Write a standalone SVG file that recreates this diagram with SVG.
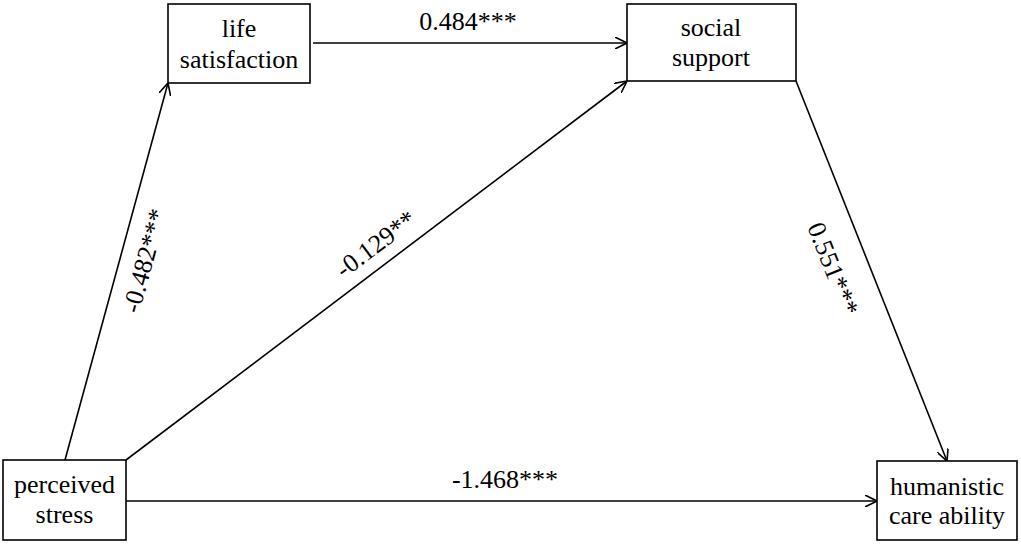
<svg xmlns="http://www.w3.org/2000/svg" width="1021" height="545" viewBox="0 0 1021 545">
<style>
.box{fill:#fff;stroke:#000;stroke-width:1.6}
.t{font-family:'Liberation Serif','Times New Roman','DejaVu Serif',serif;font-size:26px;fill:#000;text-anchor:middle}
.c{stroke:#000;stroke-width:1.6;fill:none}
</style>
<defs>
<marker id="ah" viewBox="0 0 12 12" refX="12" refY="6" markerWidth="12" markerHeight="12" markerUnits="userSpaceOnUse" orient="auto">
<path d="M0,0 L12,6 L0,12" fill="none" stroke="#000" stroke-width="1.6"/>
</marker>
</defs>
<rect width="1021" height="545" fill="#fff"/>
<g id="connectors">
<line class="c" x1="313" y1="43" x2="627" y2="43" marker-end="url(#ah)"/>
<line class="c" x1="65" y1="460" x2="168" y2="83" marker-end="url(#ah)"/>
<line class="c" x1="126" y1="460" x2="627" y2="81" marker-end="url(#ah)"/>
<line class="c" x1="126" y1="501" x2="877" y2="501" marker-end="url(#ah)"/>
<line class="c" x1="796" y1="81" x2="947" y2="461" marker-end="url(#ah)"/>
<text class="t" font-family="Liberation Serif" x="468" y="30">0.484***</text>
<text class="t" font-family="Liberation Serif" x="505" y="488">-1.468***</text>
<text class="t" font-family="Liberation Serif" transform="translate(153,263) rotate(-74.7)">-0.482***</text>
<text class="t" font-family="Liberation Serif" transform="translate(381,251) rotate(-37.1)">-0.129**</text>
<text class="t" font-family="Liberation Serif" transform="translate(825,272) rotate(68.3)">0.551***</text>
</g>
<g id="life_satisfaction">
<rect class="box" x="168" y="4" width="142" height="79"/>
<text class="t" x="239" y="37">life</text>
<text class="t" x="239" y="68">satisfaction</text>
</g>
<g id="social_support">
<rect class="box" x="627" y="4" width="169" height="77"/>
<text class="t" x="711" y="36">social</text>
<text class="t" x="711" y="66">support</text>
</g>
<g id="perceived_stress">
<rect class="box" x="3" y="460" width="123" height="80"/>
<text class="t" x="64.5" y="493">perceived</text>
<text class="t" x="64.5" y="523">stress</text>
</g>
<g id="humanistic_care_ability">
<rect class="box" x="877" y="461" width="140" height="79"/>
<text class="t" x="947" y="495">humanistic</text>
<text class="t" x="947" y="524">care ability</text>
</g>
</svg>
